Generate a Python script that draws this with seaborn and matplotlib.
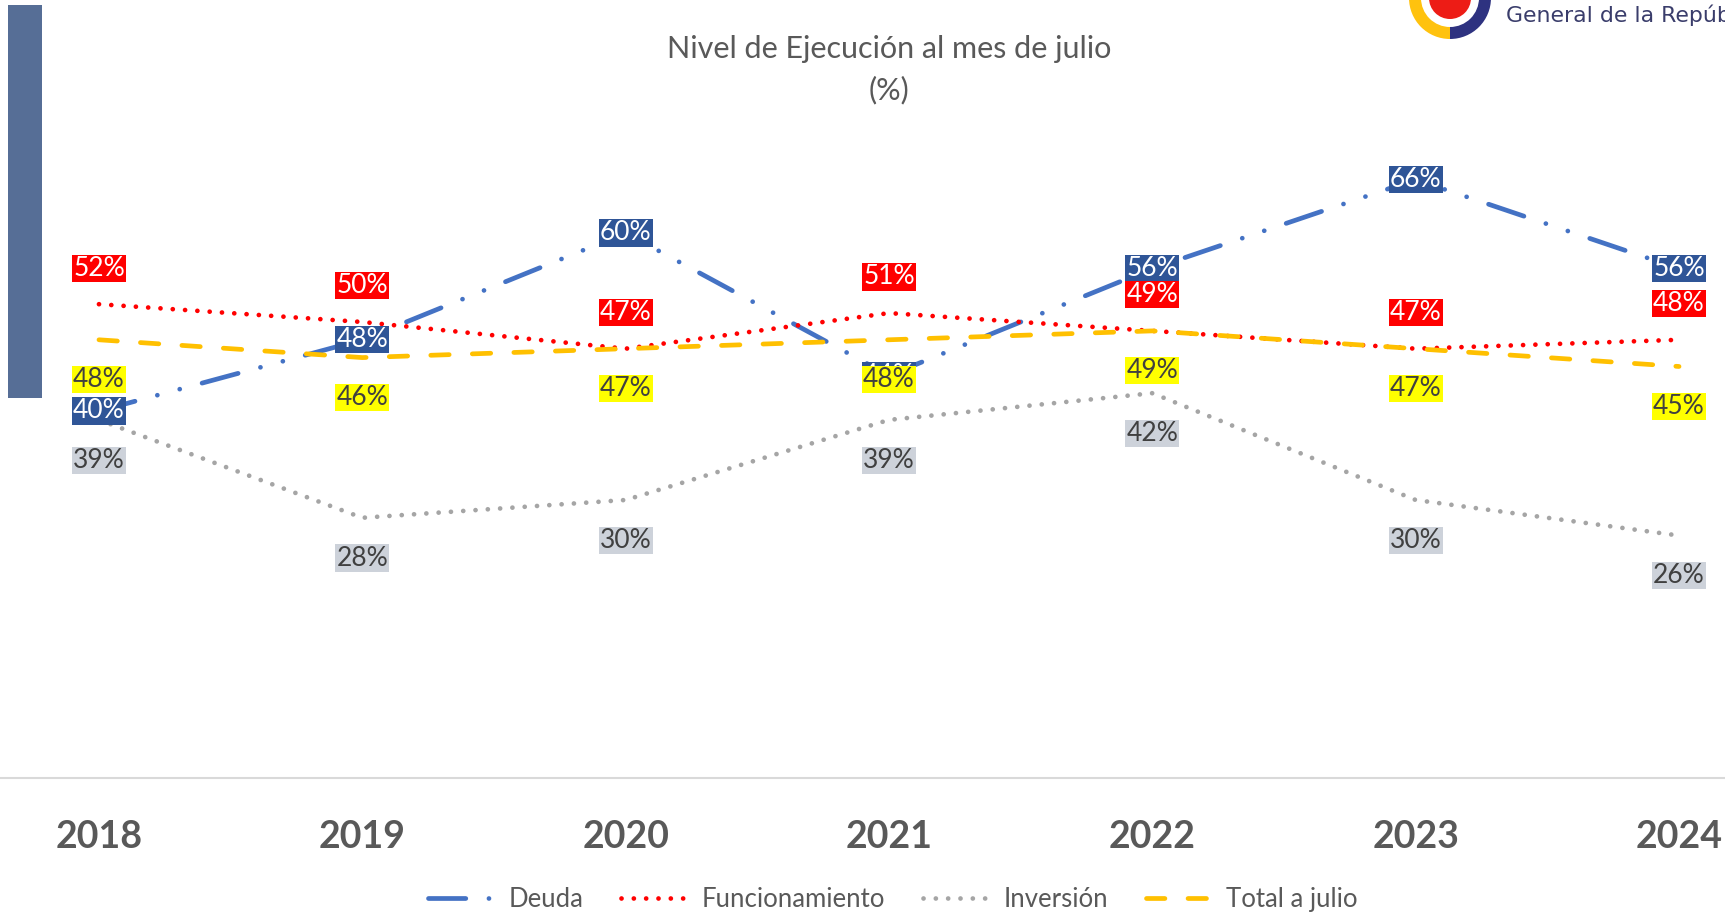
#plot.py
# Nivel de Ejecución al mes de julio (%)

import pandas as pd
import seaborn as sns
import matplotlib.pyplot as plt
from matplotlib.lines import Line2D
from matplotlib.patches import Rectangle, Wedge, Circle

#chart data (percent)
years = [2018, 2019, 2020, 2021, 2022, 2023, 2024]
deuda = [40, 48, 60, 44, 56, 66, 56]
funcionamiento = [52, 50, 47, 51, 49, 47, 48]
inversion = [39, 28, 30, 39, 42, 30, 26]
total_julio = [48, 46, 47, 48, 49, 47, 45]

series_names = ['Deuda', 'Funcionamiento', 'Inversión', 'Total a julio']
series_values = [deuda, funcionamiento, inversion, total_julio]

#styles
line_colors = ['#4472C4', '#FF0000', '#A5A5A5', '#FFC000']
box_colors = ['#2F5597', '#FF0000', '#CDD2DA', '#FFFF00']
text_colors = ['white', 'white', '#404040', '#404040']
label_offsets = [0, 26, -29, -28.5]  # points from the data point
dash_styles = [(7.9, 4.9, 0.01, 4.9, 0.01, 4.9), (0.01, 2.6), (0.01, 2.6), (3.9, 4.9)]
LW = 3.4
GRAY = '#595959'

#long-form table for seaborn
df = pd.DataFrame({
    'year': years * len(series_names),
    'value': [v / 100 for vals in series_values for v in vals],
    'serie': [name for name in series_names for _ in years],
})

sns.set_theme(style='white')
plt.rcParams['font.family'] = ['Lato', 'DejaVu Sans']

W, H = 1725, 913
fig = plt.figure(figsize=(W / 100, H / 100), dpi=100)

#decoration layer in pixel coordinates (top-down)
deco = fig.add_axes([0, 0, 1, 1])
deco.set_xlim(0, W)
deco.set_ylim(H, 0)
deco.axis('off')
deco.set_zorder(0)
deco.add_patch(Rectangle((8, 5), 34, 393, color='#566E96', lw=0))
deco.add_patch(Wedge((1450, -2), 41, 90, 270, width=12, color='#FFC20E', lw=0))
deco.add_patch(Wedge((1450, -2), 41, -90, 90, width=12, color='#2E3280', lw=0))
deco.add_patch(Circle((1450, -2), 21, color='#ED1C16', lw=0))
deco.text(1506, 15, 'General de la República', fontsize=15.8, color='#3A3D6B',
          family='DejaVu Sans', ha='left', va='center')

#main axes (wider than the figure, as in the cropped original)
ax = fig.add_axes([-32.7 / W, 1 - 778 / H, 1843.4 / W, 723 / H])
ax.set_zorder(1)
ax.patch.set_alpha(0)

sns.lineplot(data=df, x='year', y='value', hue='serie', style='serie',
             hue_order=series_names, style_order=series_names,
             palette=dict(zip(series_names, line_colors)),
             dashes=dict(zip(series_names, dash_styles)),
             linewidth=LW, legend=False, ax=ax)
for line in ax.lines:
    line.set_dash_capstyle('round')
    line.set_solid_capstyle('round')

ax.set_xlim(2017.5, 2024.5)
ax.set_ylim(-0.0124, 0.80)
ax.set_yticks([])
ax.set_xticks(years)
ax.set_xticklabels([str(y) for y in years], fontsize=27, fontweight='bold', color=GRAY)
ax.tick_params(axis='x', length=0, pad=30)
ax.set_xlabel('')
ax.set_ylabel('')
for side in ['left', 'top', 'right']:
    ax.spines[side].set_visible(False)
ax.spines['bottom'].set_color('#D9D9D9')
ax.spines['bottom'].set_linewidth(1.5)

#data labels
for i, name in enumerate(series_names):
    for year, v in zip(years, series_values[i]):
        ax.annotate(f'{v}%', (year, v / 100), xytext=(0, label_offsets[i]),
                    textcoords='offset points', ha='center', va='center',
                    fontsize=19, color=text_colors[i], zorder=5 + i,
                    annotation_clip=False,
                    bbox=dict(boxstyle='square,pad=0.04', fc=box_colors[i], ec='none'))

#title
fig.text(889 / W, 1 - 49 / H, 'Nivel de Ejecución al mes de julio', ha='center', va='center',
         fontsize=22, color=GRAY)
fig.text(889 / W, 1 - 90 / H, '(%)', ha='center', va='center', fontsize=22, color=GRAY)

#legend
handles = [Line2D([0], [0], color=c, lw=LW, dashes=d, dash_capstyle='round')
           for c, d in zip(line_colors, dash_styles)]
fig.legend(handles, series_names, loc='center', bbox_to_anchor=(0.5177, 1 - 899 / H),
           ncol=4, frameon=False, fontsize=18.5, handlelength=2.7, handletextpad=0.45,
           columnspacing=1.45, labelcolor=GRAY)

fig.savefig('out.png', dpi=100)
